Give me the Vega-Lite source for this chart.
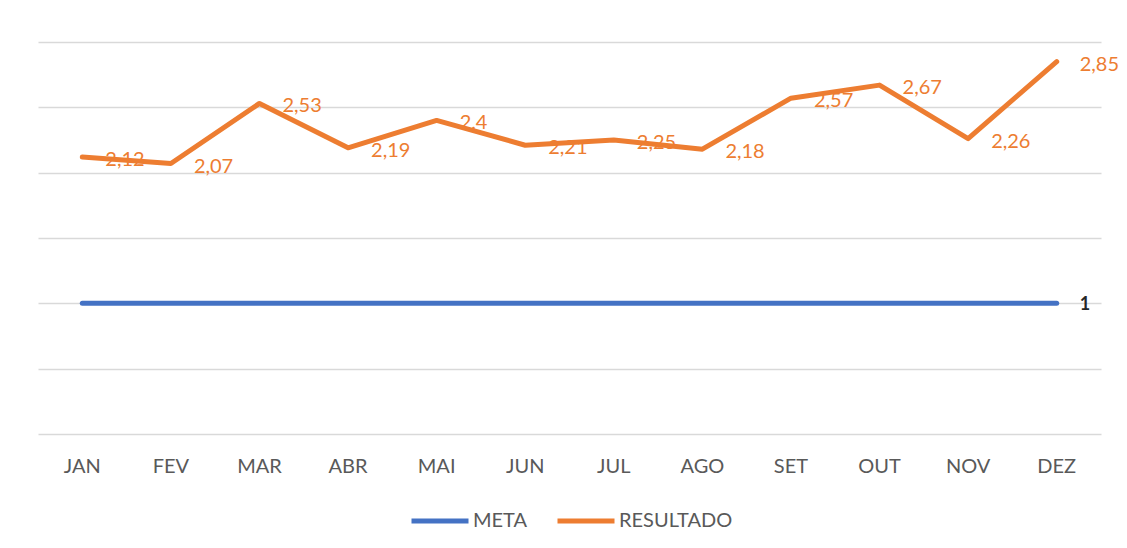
{
  "$schema": "https://vega.github.io/schema/vega-lite/v6.json",
  "width": 1063,
  "height": 392,
  "autosize": "none",
  "padding": {"left": 38, "top": 42, "right": 26, "bottom": 114},
  "background": "white",
  "config": {
    "view": {"stroke": null},
    "font": "Lato",
    "locale": {"number": {"decimal": ",", "thousands": ".", "grouping": [3], "currency": ["R$", ""]}}
  },
  "data": {
    "values": [
      {"mes": "JAN", "serie": "META", "valor": 1},
      {"mes": "FEV", "serie": "META", "valor": 1},
      {"mes": "MAR", "serie": "META", "valor": 1},
      {"mes": "ABR", "serie": "META", "valor": 1},
      {"mes": "MAI", "serie": "META", "valor": 1},
      {"mes": "JUN", "serie": "META", "valor": 1},
      {"mes": "JUL", "serie": "META", "valor": 1},
      {"mes": "AGO", "serie": "META", "valor": 1},
      {"mes": "SET", "serie": "META", "valor": 1},
      {"mes": "OUT", "serie": "META", "valor": 1},
      {"mes": "NOV", "serie": "META", "valor": 1},
      {"mes": "DEZ", "serie": "META", "valor": 1},
      {"mes": "JAN", "serie": "RESULTADO", "valor": 2.12},
      {"mes": "FEV", "serie": "RESULTADO", "valor": 2.07},
      {"mes": "MAR", "serie": "RESULTADO", "valor": 2.53},
      {"mes": "ABR", "serie": "RESULTADO", "valor": 2.19},
      {"mes": "MAI", "serie": "RESULTADO", "valor": 2.4},
      {"mes": "JUN", "serie": "RESULTADO", "valor": 2.21},
      {"mes": "JUL", "serie": "RESULTADO", "valor": 2.25},
      {"mes": "AGO", "serie": "RESULTADO", "valor": 2.18},
      {"mes": "SET", "serie": "RESULTADO", "valor": 2.57},
      {"mes": "OUT", "serie": "RESULTADO", "valor": 2.67},
      {"mes": "NOV", "serie": "RESULTADO", "valor": 2.26},
      {"mes": "DEZ", "serie": "RESULTADO", "valor": 2.85}
    ]
  },
  "encoding": {
    "x": {
      "field": "mes",
      "type": "nominal",
      "sort": null,
      "scale": {"type": "band", "paddingInner": 0, "paddingOuter": 0},
      "axis": {
        "title": null,
        "labelAngle": 0,
        "domain": false,
        "ticks": false,
        "labelPadding": 22,
        "labelFontSize": 20,
        "labelColor": "#595959",
        "labelFont": "Lato"
      }
    },
    "y": {
      "field": "valor",
      "type": "quantitative",
      "scale": {"domain": [0, 3], "nice": false, "zero": true},
      "axis": {
        "title": null,
        "labels": false,
        "ticks": false,
        "domain": false,
        "values": [0, 0.5, 1, 1.5, 2, 2.5, 3],
        "grid": true,
        "gridColor": "#d9d9d9",
        "gridWidth": 1.3
      }
    }
  },
  "layer": [
    {
      "mark": {"type": "line", "strokeWidth": 5, "strokeCap": "round", "strokeJoin": "round"},
      "encoding": {
        "x": {"field": "mes", "type": "nominal", "sort": null, "bandPosition": 0.5},
        "color": {
          "field": "serie",
          "type": "nominal",
          "scale": {"domain": ["META", "RESULTADO"], "range": ["#4472C4", "#ED7D31"]},
          "legend": {
            "title": null,
            "orient": "none",
            "direction": "horizontal",
            "legendX": 371,
            "legendY": 448,
            "symbolType": "stroke",
            "symbolSize": 3249,
            "symbolStrokeWidth": 5,
            "labelFontSize": 20,
            "labelColor": "#595959",
            "labelFont": "Lato",
            "labelOffset": 2,
            "columnPadding": 19
          }
        }
      }
    },
    {
      "transform": [{"filter": "datum.serie === 'RESULTADO'"}],
      "mark": {"type": "text", "align": "left", "baseline": "middle", "dx": 23, "dy": 3, "fontSize": 20, "color": "#ED7D31", "font": "Lato"},
      "encoding": {
        "x": {"field": "mes", "type": "nominal", "sort": null, "bandPosition": 0.5},
        "text": {"field": "valor", "type": "quantitative", "format": ".3~g"}
      }
    },
    {
      "transform": [{"filter": "datum.serie === 'META' && datum.mes === 'DEZ'"}],
      "mark": {"type": "text", "align": "left", "baseline": "middle", "dx": 23, "dy": 2, "fontSize": 18, "fontWeight": "bold", "color": "#262626", "font": "Lato"},
      "encoding": {
        "x": {"field": "mes", "type": "nominal", "sort": null, "bandPosition": 0.5},
        "text": {"field": "valor", "type": "quantitative", "format": "d"}
      }
    }
  ]
}
